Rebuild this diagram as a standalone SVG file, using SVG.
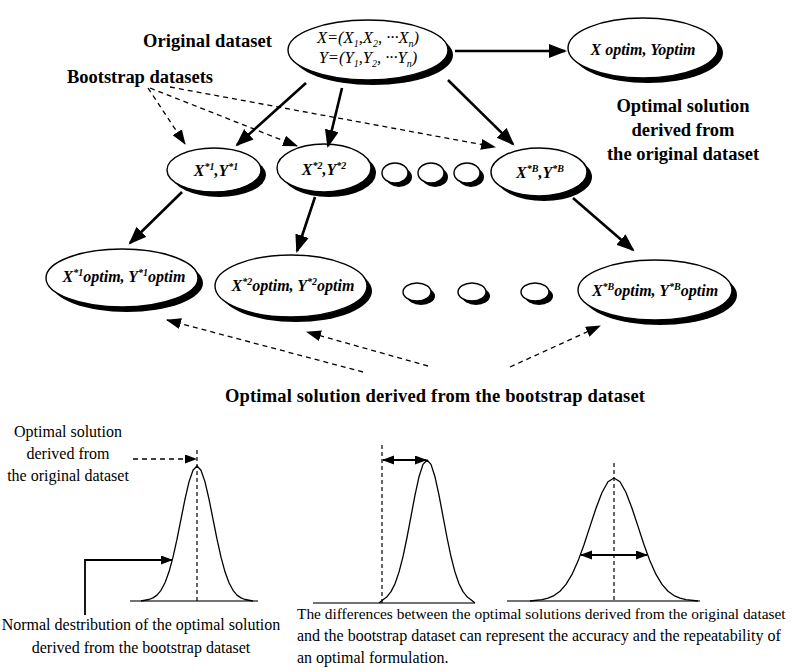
<svg xmlns="http://www.w3.org/2000/svg" width="795" height="671" viewBox="0 0 795 671">
<style>
.lbl{font-family:"Liberation Serif","Times New Roman",serif;font-weight:bold;font-size:18.5px;fill:#000}
.nt{font-family:"Liberation Serif","Times New Roman",serif;font-style:italic;font-weight:bold;font-size:16px;fill:#000}
.nt2{font-family:"Liberation Serif","Times New Roman",serif;font-style:italic;font-size:16.5px;fill:#000}
.txt{font-family:"Liberation Serif","Times New Roman",serif;font-size:16px;fill:#000}
.sh{fill:#000}
.nd{fill:#fff;stroke:#000;stroke-width:1.4}
.sol{stroke:#000;stroke-width:2.6;fill:none}
.dsh{stroke:#000;stroke-width:1.3;stroke-dasharray:5 4;fill:none}
.thin{stroke:#000;stroke-width:1.8;fill:none}
.dv{stroke:#000;stroke-width:1.2;stroke-dasharray:4 3;fill:none}
.base{stroke:#444;stroke-width:1.4;fill:none}
.crv{stroke:#000;stroke-width:1.3;fill:none;stroke-linejoin:round}
</style>
<defs>
<marker id="ah" markerUnits="userSpaceOnUse" markerWidth="20" markerHeight="16" refX="16" refY="7" orient="auto"><path d="M0,0 L18,7 L0,14 z" fill="#000"/></marker>
<marker id="ahd" markerUnits="userSpaceOnUse" markerWidth="16" markerHeight="12" refX="14" refY="5.5" orient="auto"><path d="M0,0 L15,5.5 L0,11 z" fill="#000"/></marker>
<marker id="ahs" markerUnits="userSpaceOnUse" markerWidth="12" markerHeight="10" refX="11" refY="4.5" orient="auto-start-reverse"><path d="M0,0 L12,4.5 L0,9 z" fill="#000"/></marker>
</defs>

<g id="labels">
<text class="lbl" x="143" y="47" textLength="129" lengthAdjust="spacing">Original dataset</text>
<text class="lbl" x="67" y="83" textLength="146" lengthAdjust="spacing">Bootstrap datasets</text>
<text class="lbl" x="683" y="112" text-anchor="middle">Optimal solution</text>
<text class="lbl" x="683" y="136" text-anchor="middle">derived from</text>
<text class="lbl" x="683" y="160" text-anchor="middle">the original dataset</text>
<text class="lbl" x="225" y="402" textLength="420" lengthAdjust="spacing">Optimal solution derived from the bootstrap dataset</text>
</g>

<g id="n-orig">
<ellipse class="sh" cx="373" cy="55" rx="80" ry="30"/>
<ellipse class="nd" cx="368" cy="50" rx="80" ry="30"/>
<text class="nt2" x="368" y="43" text-anchor="middle">X=(X<tspan dy="4" font-size="10">1</tspan><tspan dy="-4">,X</tspan><tspan dy="4" font-size="10">2</tspan><tspan dy="-4">, ···X</tspan><tspan dy="4" font-size="10">n</tspan><tspan dy="-4">)</tspan></text>
<text class="nt2" x="368" y="63" text-anchor="middle">Y=(Y<tspan dy="4" font-size="10">1</tspan><tspan dy="-4">,Y</tspan><tspan dy="4" font-size="10">2</tspan><tspan dy="-4">, ···Y</tspan><tspan dy="4" font-size="10">n</tspan><tspan dy="-4">)</tspan></text>
</g>

<g id="n-optim">
<ellipse class="sh" cx="648" cy="53" rx="75" ry="30"/>
<ellipse class="nd" cx="643" cy="48" rx="75" ry="30"/>
<text class="nt" x="643" y="55" text-anchor="middle">X optim, Yoptim</text>
</g>

<g id="n-b1">
<ellipse class="sh" cx="219" cy="175" rx="47" ry="22"/>
<ellipse class="nd" cx="214" cy="170" rx="47" ry="22"/>
<text class="nt" x="216" y="176" text-anchor="middle">X<tspan dy="-6" font-size="10">*1</tspan><tspan dy="6">,Y</tspan><tspan dy="-6" font-size="10">*1</tspan></text>
</g>
<g id="n-b2">
<ellipse class="sh" cx="329" cy="173" rx="47" ry="24"/>
<ellipse class="nd" cx="324" cy="168" rx="47" ry="24"/>
<text class="nt" x="324" y="175" text-anchor="middle">X<tspan dy="-6" font-size="10">*2</tspan><tspan dy="6">,Y</tspan><tspan dy="-6" font-size="10">*2</tspan></text>
</g>
<g id="n-dot1">
<ellipse class="sh" cx="399" cy="177" rx="13" ry="10"/>
<ellipse class="nd" cx="395" cy="173" rx="13" ry="10"/>
</g>
<g id="n-dot2">
<ellipse class="sh" cx="435" cy="177" rx="13" ry="10"/>
<ellipse class="nd" cx="431" cy="173" rx="13" ry="10"/>
</g>
<g id="n-dot3">
<ellipse class="sh" cx="471" cy="177" rx="13" ry="10"/>
<ellipse class="nd" cx="467" cy="173" rx="13" ry="10"/>
</g>
<g id="n-bB">
<ellipse class="sh" cx="544" cy="177" rx="48" ry="24"/>
<ellipse class="nd" cx="539" cy="172" rx="48" ry="24"/>
<text class="nt" x="540" y="178" text-anchor="middle">X<tspan dy="-6" font-size="10">*B</tspan><tspan dy="6">,Y</tspan><tspan dy="-6" font-size="10">*B</tspan></text>
</g>

<g id="n-o1">
<ellipse class="sh" cx="127" cy="283" rx="76" ry="29"/>
<ellipse class="nd" cx="122" cy="278" rx="76" ry="29"/>
<text class="nt" x="124" y="282" text-anchor="middle">X<tspan dy="-6" font-size="10">*1</tspan><tspan dy="6">optim, Y</tspan><tspan dy="-6" font-size="10">*1</tspan><tspan dy="6">optim</tspan></text>
</g>
<g id="n-o2">
<ellipse class="sh" cx="296" cy="291" rx="76" ry="31"/>
<ellipse class="nd" cx="291" cy="286" rx="76" ry="31"/>
<text class="nt" x="293" y="291" text-anchor="middle">X<tspan dy="-6" font-size="10">*2</tspan><tspan dy="6">optim, Y</tspan><tspan dy="-6" font-size="10">*2</tspan><tspan dy="6">optim</tspan></text>
</g>
<g id="n-odot1">
<ellipse class="sh" cx="421" cy="296" rx="14" ry="9"/>
<ellipse class="nd" cx="417" cy="292" rx="14" ry="9"/>
</g>
<g id="n-odot2">
<ellipse class="sh" cx="476" cy="296" rx="14" ry="9"/>
<ellipse class="nd" cx="472" cy="292" rx="14" ry="9"/>
</g>
<g id="n-odot3">
<ellipse class="sh" cx="539" cy="296" rx="14" ry="9"/>
<ellipse class="nd" cx="535" cy="292" rx="14" ry="9"/>
</g>
<g id="n-oB">
<ellipse class="sh" cx="660" cy="295" rx="77" ry="30"/>
<ellipse class="nd" cx="655" cy="290" rx="77" ry="30"/>
<text class="nt" x="655" y="296" text-anchor="middle">X<tspan dy="-6" font-size="10">*B</tspan><tspan dy="6">optim, Y</tspan><tspan dy="-6" font-size="10">*B</tspan><tspan dy="6">optim</tspan></text>
</g>

<g id="connectors">
<line class="sol" x1="455" y1="51" x2="565" y2="51" marker-end="url(#ah)"/>
<line class="sol" x1="306" y1="83" x2="237" y2="145" marker-end="url(#ah)"/>
<line class="sol" x1="342" y1="88" x2="328" y2="146" marker-end="url(#ah)"/>
<line class="sol" x1="448" y1="80" x2="513" y2="144" marker-end="url(#ah)"/>
<line class="sol" x1="182" y1="192" x2="130" y2="243" marker-end="url(#ah)"/>
<line class="sol" x1="315" y1="197" x2="297" y2="251" marker-end="url(#ah)"/>
<line class="sol" x1="573" y1="198" x2="633" y2="250" marker-end="url(#ah)"/>
<line class="dsh" x1="148" y1="88" x2="185" y2="144" marker-end="url(#ahd)"/>
<line class="dsh" x1="150" y1="88" x2="297" y2="146" marker-end="url(#ahd)"/>
<line class="dsh" x1="170" y1="87" x2="495" y2="147" marker-end="url(#ahd)"/>
<line class="dsh" x1="363" y1="372" x2="167" y2="320" marker-end="url(#ahd)"/>
<line class="dsh" x1="428" y1="366" x2="307" y2="332" marker-end="url(#ahd)"/>
<line class="dsh" x1="510" y1="367" x2="600" y2="326" marker-end="url(#ahd)"/>
</g>

<g id="dist1">
<line class="base" x1="130" y1="601" x2="258" y2="601"/>
<path class="crv" d="M141,601 L149,599.5 L153,597.9 L157,595.1 L161,590.3 L165,582.7 L169,571.8 L173,557.2 L177,539.2 L181,519.1 L185,499.1 L189,481.9 L193,470.2 L197,466 L201,470.2 L205,481.9 L209,499.1 L213,519.1 L217,539.2 L221,557.2 L225,571.8 L229,582.7 L233,590.3 L237,595.1 L241,597.9 L245,599.5 L253,601"/>
<line class="dv" x1="197" y1="450" x2="197" y2="601"/>
<line class="dsh" x1="133" y1="459" x2="196" y2="459" marker-end="url(#ahs)"/>
<polyline class="thin" points="85,615 85,560 172,560" marker-end="url(#ahs)"/>
<text class="txt" x="68" y="437" text-anchor="middle">Optimal solution</text>
<text class="txt" x="68" y="459" text-anchor="middle">derived from</text>
<text class="txt" x="68" y="481" text-anchor="middle">the original dataset</text>
<text class="txt" x="141" y="630" text-anchor="middle">Normal destribution of the optimal solution</text>
<text class="txt" x="141" y="653" text-anchor="middle">derived from the bootstrap dataset</text>
</g>

<g id="dist2">
<line class="base" x1="313" y1="603" x2="475" y2="603"/>
<path class="crv" d="M379,603 L383,599.7 L387,596.7 L391,591.6 L395,583.7 L399,572.1 L403,556.6 L407,537.5 L411,516.3 L415,495.1 L419,476.8 L423,464.4 L427,460 L431,464.4 L435,476.8 L439,495.1 L443,516.3 L447,537.5 L451,556.6 L455,572.1 L459,583.7 L463,591.6 L467,596.7 L471,599.7 L475,603"/>
<line class="dv" x1="382" y1="445" x2="382" y2="603"/>
<line class="thin" x1="383" y1="460" x2="426" y2="460" marker-start="url(#ahs)" marker-end="url(#ahs)"/>
</g>

<g id="dist3">
<line class="base" x1="507" y1="601" x2="700" y2="601"/>
<path class="crv" d="M530,601 L542,599.6 L548,598.2 L554,595.6 L560,591.2 L566,584.4 L572,574.4 L578,561.1 L584,544.7 L590,526.4 L596,508.2 L602,492.5 L608,481.8 L614,478 L620,481.8 L626,492.5 L632,508.2 L638,526.4 L644,544.7 L650,561.1 L656,574.4 L662,584.4 L668,591.2 L674,595.6 L680,598.2 L686,599.6 L698,601"/>
<line class="dv" x1="614" y1="463" x2="614" y2="601"/>
<line class="thin" x1="581" y1="555" x2="647" y2="555" marker-start="url(#ahs)" marker-end="url(#ahs)"/>
<text class="txt" x="297" y="619" style="font-size:15.4px">The differences between the optimal solutions derived from the original dataset</text>
<text class="txt" x="297" y="641">and the bootstrap dataset can represent the accuracy and the repeatability of</text>
<text class="txt" x="297" y="663">an optimal formulation.</text>
</g>
</svg>
